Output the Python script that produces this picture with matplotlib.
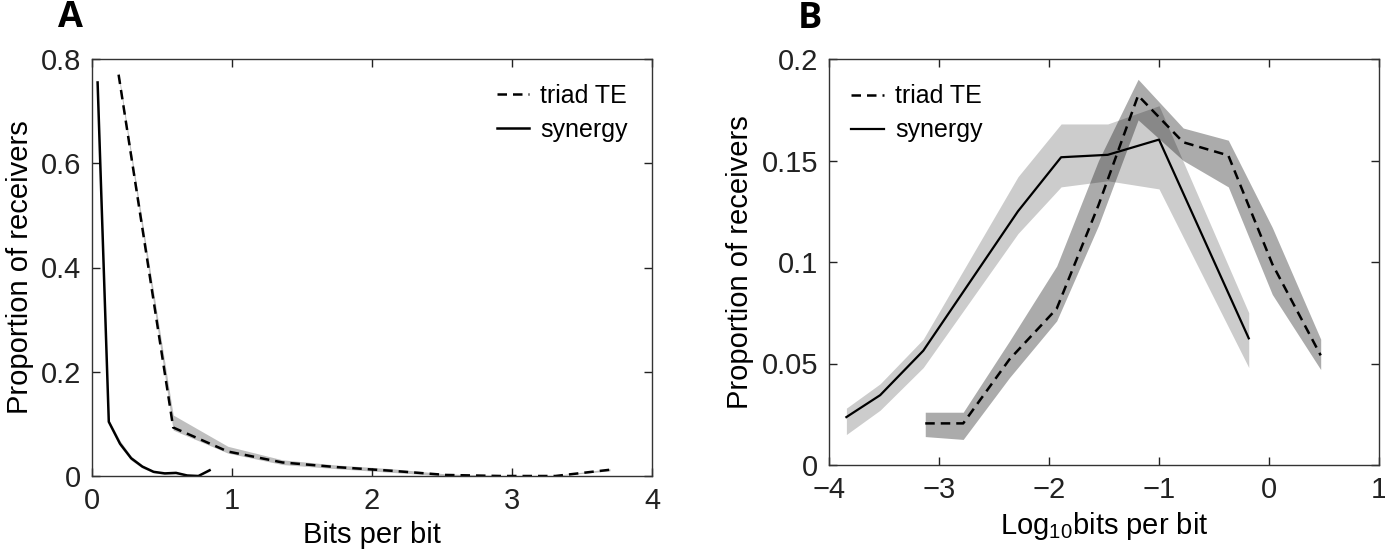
import numpy as np
import matplotlib.pyplot as plt

plt.rcParams.update({
    "font.family": "Liberation Sans",
    "mathtext.fontset": "custom",
    "mathtext.rm": "Liberation Sans",
    "mathtext.it": "Liberation Sans",
    "font.size": 21,
    "axes.linewidth": 1.0,
    "axes.edgecolor": "#333333",
    "xtick.direction": "in",
    "ytick.direction": "in",
    "xtick.top": True,
    "ytick.right": True,
})

# panel A: linear bits per bit
a_te_x = [0.19, 0.58, 0.97, 1.36, 1.75, 2.14, 2.53, 2.92, 3.31, 3.70]
a_te_y = [0.770, 0.093, 0.047, 0.026, 0.017, 0.010, 0.002, 0.000, 0.000, 0.012]
a_te_lo = [0.765, 0.088, 0.044, 0.022, 0.014, 0.007, 0.000, 0.000, 0.000, 0.010]
a_te_hi = [0.775, 0.117, 0.057, 0.031, 0.021, 0.014, 0.004, 0.001, 0.001, 0.014]

a_syn_x = [0.04, 0.12, 0.20, 0.28, 0.36, 0.44, 0.52, 0.60, 0.68, 0.76, 0.84]
a_syn_y = [0.755, 0.104, 0.062, 0.034, 0.018, 0.008, 0.005, 0.006, 0.001, 0.000, 0.011]
a_syn_lo = [0.752, 0.100, 0.057, 0.030, 0.015, 0.006, 0.003, 0.004, 0.000, 0.000, 0.009]
a_syn_hi = [0.758, 0.108, 0.068, 0.038, 0.021, 0.010, 0.007, 0.008, 0.002, 0.001, 0.013]

# panel B: log10 bits per bit
b_te_x = [-3.125, -2.78, -2.36, -1.93, -1.55, -1.19, -0.78, -0.37, 0.03, 0.47]
b_te_y = [0.0205, 0.0205, 0.052, 0.077, 0.128, 0.182, 0.159, 0.1525, 0.099, 0.054]
b_te_lo = [0.014, 0.0126, 0.043, 0.071, 0.118, 0.170, 0.150, 0.137, 0.084, 0.047]
b_te_hi = [0.026, 0.026, 0.061, 0.098, 0.150, 0.190, 0.166, 0.160, 0.117, 0.062]

b_syn_x = [-3.842, -3.535, -3.143, -2.282, -1.89, -1.466, -1.0, -0.184]
b_syn_y = [0.0236, 0.0344, 0.0563, 0.125, 0.1516, 0.1528, 0.1603, 0.0624]
b_syn_lo = [0.015, 0.027, 0.048, 0.114, 0.137, 0.140, 0.136, 0.048]
b_syn_hi = [0.028, 0.040, 0.062, 0.142, 0.168, 0.168, 0.177, 0.075]

fig = plt.figure(figsize=(13.85, 5.58), dpi=100)
W, H = 1385.0, 558.0
axA = fig.add_axes([92 / W, 1 - 476 / H, 560 / W, 417 / H])
axB = fig.add_axes([829 / W, 1 - 465 / H, 550 / W, 406 / H])

dash = (0, (3.8, 2.4))

# A
axA.fill_between(a_syn_x, a_syn_lo, a_syn_hi, color="k", alpha=0.2, lw=0)
axA.fill_between(a_te_x, a_te_lo, a_te_hi, color="k", alpha=0.25, lw=0)
axA.plot(a_te_x, a_te_y, color="k", ls=dash, lw=1.8, label="triad TE")
axA.plot(a_syn_x, a_syn_y, color="k", ls="-", lw=1.8, label="synergy")
axA.set_xlim(0, 4)
axA.set_ylim(0, 0.8)
axA.set_xticks([0, 1, 2, 3, 4])
axA.set_yticks([0, 0.2, 0.4, 0.6, 0.8])
axA.set_yticklabels(["0", "0.2", "0.4", "0.6", "0.8"])
axA.set_xlabel("Bits per bit", labelpad=4)
axA.set_ylabel("Proportion of receivers", labelpad=5)
axA.legend(loc="upper right", bbox_to_anchor=(0.975, 0.965), frameon=False,
           handlelength=1.3, handletextpad=0.45, labelspacing=0.4,
           borderaxespad=0, fontsize=18)

# B
axB.fill_between(b_syn_x, b_syn_lo, b_syn_hi, color="k", alpha=0.2, lw=0)
axB.fill_between(b_te_x, b_te_lo, b_te_hi, color="k", alpha=0.33, lw=0)
axB.plot(b_te_x, b_te_y, color="k", ls=dash, lw=1.8, label="triad TE")
axB.plot(b_syn_x, b_syn_y, color="k", ls="-", lw=1.6, label="synergy")
axB.set_xlim(-4, 1)
axB.set_ylim(0, 0.2)
axB.set_xticks([-4, -3, -2, -1, 0, 1])
axB.set_xticklabels(["\u22124", "\u22123", "\u22122", "\u22121", "0", "1"])
axB.set_yticks([0, 0.05, 0.1, 0.15, 0.2])
axB.set_yticklabels(["0", "0.05", "0.1", "0.15", "0.2"])
axB.set_xlabel("Log$_{10}$bits per bit", labelpad=4)
axB.set_ylabel("Proportion of receivers", labelpad=5)
axB.legend(loc="upper left", bbox_to_anchor=(0.022, 0.962), frameon=False,
           handlelength=1.3, handletextpad=0.45, labelspacing=0.4,
           borderaxespad=0, fontsize=18)

for ax in (axA, axB):
    ax.tick_params(length=6, width=1.0, pad=8, colors="#222222")

fig.text(70 / W, 1 - 18 / H, "A", fontsize=26, fontweight="bold",
         family="Open Sans", ha="center", va="center")
fig.text(810 / W, 1 - 19 / H, "B", fontsize=26, fontweight="bold",
         family="Open Sans", ha="center", va="center")

fig.savefig("out.png", dpi=100)
